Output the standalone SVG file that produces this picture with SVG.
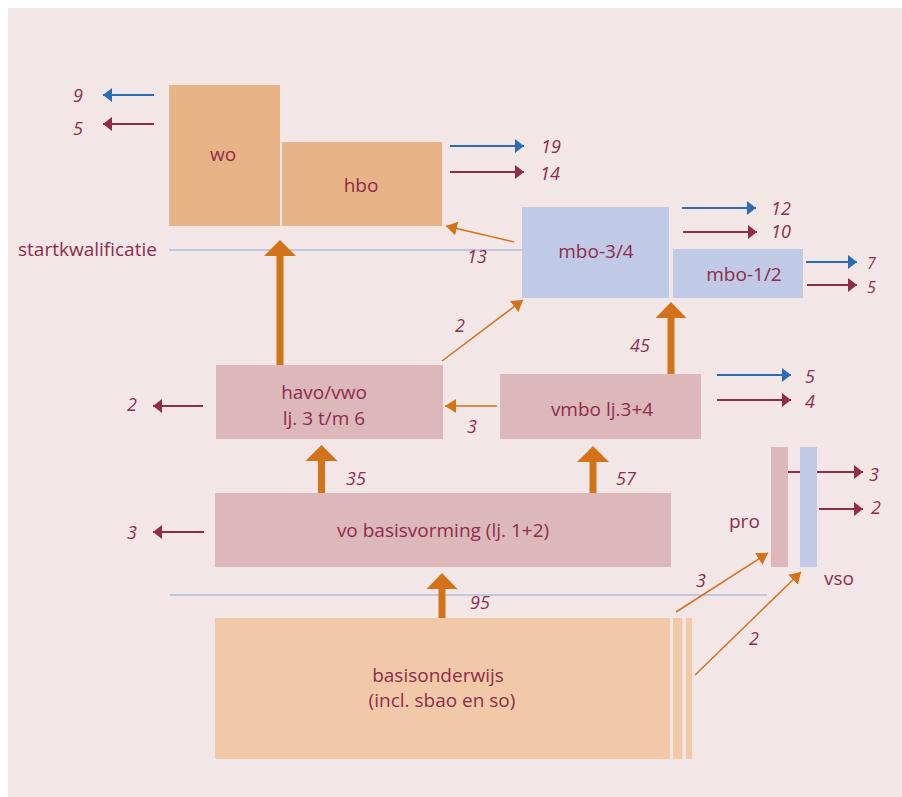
<svg xmlns="http://www.w3.org/2000/svg" width="902" height="797" viewBox="0 0 902 797">
<defs>
<style>
.lbl{font-family:"Open Sans","Liberation Sans",sans-serif;font-size:19px;fill:#8e2c4c;text-anchor:middle}
.num{font-family:"Open Sans","Liberation Sans",sans-serif;font-size:18px;font-style:italic;fill:#8e2c4c}
.sm{font-size:16px}
.side{font-family:"Open Sans","Liberation Sans",sans-serif;font-size:19px;fill:#8e2c4c}
.blue{stroke:#2a6db5;stroke-width:2;fill:none}
.red{stroke:#8e2c4c;stroke-width:2;fill:none}
.or{stroke:#d27319;stroke-width:1.5;fill:none}
.hl{stroke:#aebde2;stroke-width:1.5;fill:none}
.thick{fill:#d27319}
.peach{fill:#e8b386}
.lav{fill:#c0c9e5}
.rose{fill:#dcb8bb}
.sand{fill:#f1c9a8}
</style>
<marker id="mb" markerUnits="userSpaceOnUse" markerWidth="10" markerHeight="15" refX="9" refY="7" orient="auto"><path d="M0,0 L9,7 L0,14 z" fill="#2a6db5"/></marker>
<marker id="mr" markerUnits="userSpaceOnUse" markerWidth="10" markerHeight="15" refX="9" refY="7" orient="auto"><path d="M0,0 L9,7 L0,14 z" fill="#8e2c4c"/></marker>
<marker id="mo" markerUnits="userSpaceOnUse" markerWidth="12" markerHeight="15" refX="11" refY="7" orient="auto"><path d="M0,0 L11,7 L0,14 z" fill="#d27319"/></marker>
</defs>
<rect x="0" y="0" width="902" height="797" fill="#ffffff"/>
<rect x="8" y="8" width="894" height="789" fill="#f3e6e6"/>

<text class="side" x="18" y="256">startkwalificatie</text>

<g id="connectors">
<line class="hl" x1="169" y1="250" x2="522" y2="250"/>
<line class="hl" x1="170" y1="595" x2="767" y2="595"/>
<line class="blue" x1="154" y1="95" x2="103" y2="95" marker-end="url(#mb)"/>
<line class="red" x1="154" y1="124" x2="103" y2="124" marker-end="url(#mr)"/>
<line class="blue" x1="450" y1="146" x2="524" y2="146" marker-end="url(#mb)"/>
<line class="red" x1="450" y1="172" x2="524" y2="172" marker-end="url(#mr)"/>
<line class="blue" x1="682" y1="208" x2="756" y2="208" marker-end="url(#mb)"/>
<line class="red" x1="683" y1="232" x2="757" y2="232" marker-end="url(#mr)"/>
<line class="blue" x1="806" y1="262" x2="857" y2="262" marker-end="url(#mb)"/>
<line class="red" x1="807" y1="285" x2="857" y2="285" marker-end="url(#mr)"/>
<line class="blue" x1="717" y1="375" x2="791" y2="375" marker-end="url(#mb)"/>
<line class="red" x1="717" y1="400" x2="791" y2="400" marker-end="url(#mr)"/>
<line class="red" x1="203" y1="406" x2="153" y2="406" marker-end="url(#mr)"/>
<line class="red" x1="204" y1="532" x2="153" y2="532" marker-end="url(#mr)"/>
<line class="red" x1="788" y1="472" x2="863" y2="472" marker-end="url(#mr)"/>
<line class="red" x1="819" y1="509" x2="863" y2="509" marker-end="url(#mr)"/>
<line class="or" x1="514" y1="242" x2="446" y2="226" marker-end="url(#mo)"/>
<line class="or" x1="442" y1="361" x2="523" y2="300" marker-end="url(#mo)"/>
<line class="or" x1="497" y1="406" x2="445" y2="406" marker-end="url(#mo)"/>
<line class="or" x1="676" y1="612" x2="768" y2="553" marker-end="url(#mo)"/>
<line class="or" x1="695" y1="675" x2="801" y2="572" marker-end="url(#mo)"/>
<polygon class="thick" points="276.5,365 283.5,365 283.5,256 296,256 280,240 264,256 276.5,256"/>
<polygon class="thick" points="667.5,374 674.5,374 674.5,318 686.5,318 671,302 655.5,318 667.5,318"/>
<polygon class="thick" points="318,493 325,493 325,461 337.5,461 321.5,445 305.5,461 318,461"/>
<polygon class="thick" points="589.5,493 596.5,493 596.5,462 609,462 593,446 577,462 589.5,462"/>
<polygon class="thick" points="438.5,618 445.5,618 445.5,589 457.5,589 442,573 426.5,589 438.5,589"/>
</g>

<g id="wo"><rect class="peach" x="169" y="85" width="111" height="141"/><text class="lbl" x="223" y="161">wo</text></g>
<g id="hbo"><rect class="peach" x="282" y="142" width="160" height="84"/><text class="lbl" x="361" y="192">hbo</text></g>
<g id="mbo34"><rect class="lav" x="522" y="207" width="147" height="91"/><text class="lbl" x="596" y="258">mbo-3/4</text></g>
<g id="mbo12"><rect class="lav" x="673" y="249" width="130" height="49"/><text class="lbl" x="744" y="281">mbo-1/2</text></g>
<g id="havovwo"><rect class="rose" x="216" y="365" width="227" height="74"/><text class="lbl" x="324" y="399">havo/vwo</text><text class="lbl" x="324" y="425">lj. 3 t/m 6</text></g>
<g id="vmbo"><rect class="rose" x="500" y="374" width="201" height="65"/><text class="lbl" x="602" y="416">vmbo lj.3+4</text></g>
<g id="vo"><rect class="rose" x="215" y="493" width="456" height="74"/><text class="lbl" x="443" y="537">vo basisvorming (lj. 1+2)</text></g>
<g id="pro"><rect class="rose" x="771" y="447" width="17" height="120"/><text class="side" x="729" y="528">pro</text></g>
<g id="vso"><rect class="lav" x="800" y="447" width="17" height="120"/><text class="side" x="824" y="585">vso</text></g>
<g id="basis"><rect class="sand" x="215" y="618" width="455" height="141"/><rect class="sand" x="673" y="618" width="9.5" height="141"/><rect class="sand" x="686" y="618" width="6" height="141"/><text class="lbl" x="438" y="682">basisonderwijs</text><text class="lbl" x="442" y="707">(incl. sbao en so)</text></g>

<g id="numbers">
<text class="num" x="73" y="102">9</text>
<text class="num" x="73" y="135">5</text>
<text class="num" x="541" y="153">19</text>
<text class="num" x="540" y="180">14</text>
<text class="num" x="771" y="215">12</text>
<text class="num" x="771" y="238">10</text>
<text class="num sm" x="867" y="269">7</text>
<text class="num sm" x="867" y="293">5</text>
<text class="num" x="467" y="263">13</text>
<text class="num" x="455" y="332">2</text>
<text class="num" x="127" y="411">2</text>
<text class="num" x="467" y="433">3</text>
<text class="num" x="630" y="352">45</text>
<text class="num" x="805" y="383">5</text>
<text class="num" x="805" y="408">4</text>
<text class="num" x="869" y="481">3</text>
<text class="num" x="871" y="514">2</text>
<text class="num" x="346" y="485">35</text>
<text class="num" x="616" y="485">57</text>
<text class="num" x="127" y="539">3</text>
<text class="num" x="470" y="609">95</text>
<text class="num" x="696" y="587">3</text>
<text class="num" x="749" y="645">2</text>
</g>
</svg>
